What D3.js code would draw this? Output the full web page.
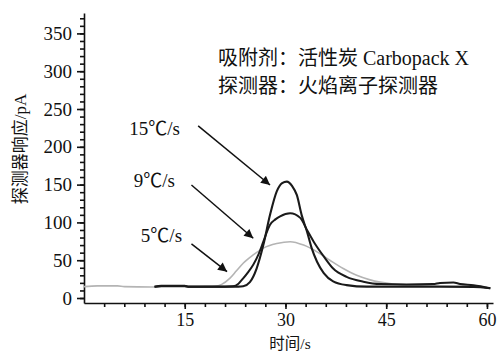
<!DOCTYPE html>
<html>
<head>
<meta charset="utf-8">
<script src="https://cdn.jsdelivr.net/npm/d3@7"></script>
<style>
  body { margin: 0; background: #fff; }
  svg text { fill: #111; }
</style>
</head>
<body>
<svg id="chart" width="499" height="354"></svg>
<script>
// 5℃/s (gray)
var time5 = [0, 2, 5, 6, 10, 15, 18, 19.5, 20.5, 21.7, 22.7, 23.7, 25.2, 26.7, 28.7, 30.7, 32.7, 34.7, 36.6, 38.6, 40.6, 42.6, 44.1, 46, 48, 52, 56, 59, 60.5];
var val5  = [15, 16, 16, 15, 14.5, 14.5, 15, 15.5, 18, 26, 36, 46, 57, 66, 72, 74.5, 70, 61, 50, 39, 30, 24, 21, 18.5, 17.5, 16.5, 16, 15, 13];

// 9℃/s
var time9 = [10.5, 11.5, 15, 15.5, 21, 22.2, 23, 23.7, 24.5, 25.2, 26, 26.7, 27.7, 28.5, 29.2, 30.7, 32.2, 33.2, 34.2, 35.7, 37.1, 39.1, 41.6, 44.1, 48, 52, 53, 55, 56, 58, 60.5];
var val9  = [15, 16, 16, 15, 15, 15.5, 19, 26, 35, 44, 58, 74.5, 97, 104, 108, 112, 106, 90, 74.5, 55, 39, 28, 21.6, 18.5, 18, 18.5, 20, 20.5, 18.5, 17, 13];

// 15℃/s
var time15 = [10.5, 11.5, 15, 15.5, 23, 23.7, 24.7, 25.7, 26.7, 27.7, 28.7, 29.5, 30.2, 31, 31.7, 32.4, 33.2, 33.9, 34.7, 35.7, 37.1, 39.1, 42.1, 50, 58, 60.5];
var val15  = [15, 16, 16, 15, 15, 15.5, 21, 39, 70, 110, 141, 152, 154, 148, 136, 110, 88, 66, 48, 33, 22, 17, 15, 15, 14.5, 13];

var xMajor = [15, 30, 45, 60];
var yMajor = [0, 50, 100, 150, 200, 250, 300, 350];

// arrow annotations, in data units
var arrowLabels = ['15℃/s', '9℃/s', '5℃/s'];
var arrowFrom = [[17.0, 227.6], [16.0, 149.5], [16.0, 71.5]];
var arrowTo = [[27.7, 149.5], [25.2, 79], [21.3, 34.8]];
var labelPos = [[14.3, 215.7], [13.55, 146.9], [14.6, 74.1]];

var noteLines = ['吸附剂：活性炭 Carbopack X', '探测器：火焰离子探测器'];

var LATIN = '"Liberation Serif", "Times New Roman", serif',
    CJK = '"Noto Sans CJK SC", sans-serif';

// split mixed text so latin parts get the serif font
function setText(sel, str) {
    var runs = str.match(/[\u2103\u3000-\u9fff\uff00-\uffef]+|[^\u2103\u3000-\u9fff\uff00-\uffef]+/g);
    sel.style('font-family', LATIN);
    runs.forEach(function(r) {
        var cjk = /[\u2103\u3000-\u9fff\uff00-\uffef]/.test(r);
        sel.append('tspan').style('font-family', cjk ? CJK : LATIN).text(r);
    });
}

var svg = d3.select('#chart');

var x = d3.scaleLinear().domain([0, 60.9]).range([84, 493]);
var y = d3.scaleLinear().domain([-6.6, 377]).range([303, 13]);

svg.append('defs').append('marker')
    .attr('id', 'head')
    .attr('viewBox', '0 0 10 10')
    .attr('refX', 10).attr('refY', 5)
    .attr('markerWidth', 10).attr('markerHeight', 9)
    .attr('markerUnits', 'userSpaceOnUse')
    .attr('orient', 'auto')
  .append('path')
    .attr('d', 'M0,0 L10,5 L0,10 z')
    .attr('fill', '#111');

// minor ticks
svg.append('g')
    .attr('transform', 'translate(0,' + y.range()[0] + ')')
    .call(d3.axisBottom(x).tickValues(d3.range(3, 61, 3)).tickSize(4).tickSizeOuter(0).tickFormat(''))
    .call(function(g) { g.select('.domain').remove(); });

svg.append('g')
    .attr('transform', 'translate(' + x.range()[0] + ',0)')
    .call(d3.axisLeft(y).tickValues(d3.range(0, 371, 10)).tickSize(4).tickSizeOuter(0).tickFormat(''))
    .call(function(g) { g.select('.domain').remove(); });

// major axes
var xAxis = svg.append('g')
    .attr('transform', 'translate(0,' + y.range()[0] + ')')
    .call(d3.axisBottom(x).tickValues(xMajor).tickSize(6).tickPadding(4.5).tickSizeOuter(0));

var yAxis = svg.append('g')
    .attr('transform', 'translate(' + x.range()[0] + ',0)')
    .call(d3.axisLeft(y).tickValues(yMajor).tickSize(7).tickPadding(5).tickSizeOuter(0));

svg.selectAll('.tick line, .domain').attr('stroke', '#111').attr('stroke-width', 1.6);
yAxis.selectAll('.tick text').attr('font-size', 19).style('font-family', LATIN);
xAxis.selectAll('.tick text').attr('font-size', 18).style('font-family', LATIN);

// curves
var line = d3.line()
    .x(function(d) { return x(d[0]); })
    .y(function(d) { return y(d[1]); })
    .curve(d3.curveMonotoneX);

var series = [
    { t: time5, v: val5, color: '#b4b4b4', width: 1.6 },
    { t: time9, v: val9, color: '#1a1a1a', width: 2 },
    { t: time15, v: val15, color: '#1a1a1a', width: 2.1 }
];

series.forEach(function(s) {
    svg.append('path')
        .datum(d3.zip(s.t, s.v))
        .attr('fill', 'none')
        .attr('stroke', s.color)
        .attr('stroke-width', s.width)
        .attr('d', line);
});

// arrows + labels
arrowLabels.forEach(function(label, i) {
    svg.append('line')
        .attr('x1', x(arrowFrom[i][0])).attr('y1', y(arrowFrom[i][1]))
        .attr('x2', x(arrowTo[i][0])).attr('y2', y(arrowTo[i][1]))
        .attr('stroke', '#111')
        .attr('stroke-width', 1.5)
        .attr('marker-end', 'url(#head)');

    var t = svg.append('text')
        .attr('x', x(labelPos[i][0]))
        .attr('y', y(labelPos[i][1]))
        .attr('text-anchor', 'end')
        .attr('font-size', 19);
    setText(t, label);
});

// note
noteLines.forEach(function(txt, i) {
    var t = svg.append('text')
        .attr('x', x(19.95))
        .attr('y', y(308 - i * 37))
        .attr('font-size', 20);
    setText(t, txt);
});

// axis titles
var yt = svg.append('text')
    .attr('transform', 'translate(26,149) rotate(-90)')
    .attr('text-anchor', 'middle')
    .attr('font-size', 17);
setText(yt, '探测器响应/pA');

var xt = svg.append('text')
    .attr('x', 290)
    .attr('y', 348.5)
    .attr('text-anchor', 'middle')
    .attr('font-size', 15.5);
setText(xt, '时间/s');
</script>
</body>
</html>
